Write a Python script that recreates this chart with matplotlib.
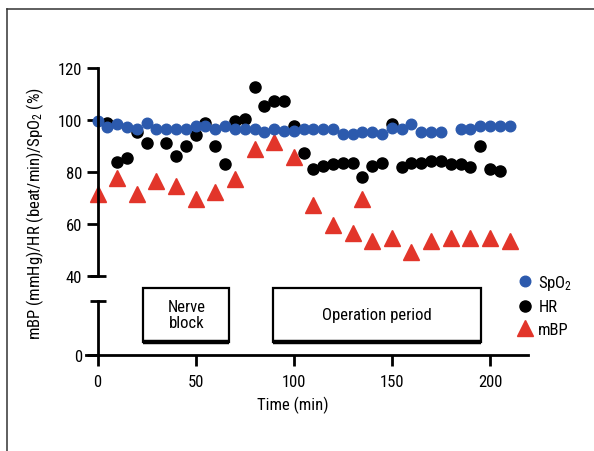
import matplotlib
matplotlib.use("Agg")
import matplotlib.pyplot as plt
from matplotlib.patches import Rectangle
from matplotlib.lines import Line2D
from matplotlib import font_manager

# ---------------- data ----------------
spo2_t = [0, 5, 10, 15, 20, 25, 30, 35, 40, 45, 50, 55, 60, 65, 70, 75, 80, 85, 90, 95,
          100, 105, 110, 115, 120, 125, 130, 135, 140, 145, 150, 155, 160, 165, 170, 175,
          185, 190, 195, 200, 205, 210]
spo2_v = [99.7, 97.4, 98.5, 97.2, 96.5, 98.8, 96.5, 96.5, 96.5, 96.5, 97.6, 97.7, 96.5, 97.7,
          96.5, 96.5, 96.5, 95.3, 96.5, 95.6, 95.6, 96.5, 96.5, 96.5, 96.5, 94.6, 94.6, 95.5,
          95.5, 94.6, 97, 96.5, 98.5, 95.5, 95.5, 95.5, 96.5, 96.5, 97.6, 97.6, 97.6, 97.6]

hr_t = [5, 10, 15, 20, 25, 35, 40, 45, 50, 55, 60, 65, 70, 75, 80, 85, 90, 95, 100, 105,
        110, 115, 120, 125, 130, 135, 140, 145, 150, 155, 160, 165, 170, 175, 180, 185,
        190, 195, 200, 205]
hr_v = [98.8, 84, 85.3, 95.3, 91.2, 91.2, 86.3, 90.1, 94.2, 98.8, 90.1, 83, 99.7, 100.4,
        112.6, 105.5, 107.4, 107.4, 97.8, 87.3, 81.2, 82.3, 83.2, 83.3, 83.3, 78.2, 82.4,
        83.3, 98.5, 82, 83.3, 83.3, 84.3, 84.3, 83, 83, 82, 90.1, 81.3, 80.3]

mbp_t = [0, 10, 20, 30, 40, 50, 60, 70, 80, 90, 100, 110, 120, 130, 135, 140, 150, 160,
         170, 180, 190, 200, 210]
mbp_v = [71.5, 77.6, 71.5, 76.7, 74.7, 69.6, 72.2, 77.3, 88.8, 91.4, 85.8, 67.5, 59.6,
         56.5, 69.6, 53.6, 54.5, 49.3, 53.6, 54.5, 54.5, 54.5, 53.6]

periods = ["Nerve\nblock", "Operation period"]
period_start = [23.4, 89.4]
period_end = [67.1, 195.5]

upper_ticks = [40, 60, 80, 100, 120]
lower_ticks = [0]
x_ticks = [0, 50, 100, 150, 200]

# ---------------- style ----------------
avail = {f.name for f in font_manager.fontManager.ttflist}
fam = [f for f in ["Liberation Sans Narrow", "Roboto Condensed", "Open Sans Condensed",
                   "Liberation Sans", "DejaVu Sans"] if f in avail] + ["DejaVu Sans"]
plt.rcParams["font.family"] = fam
plt.rcParams["mathtext.fontset"] = "custom"
plt.rcParams["mathtext.rm"] = fam[0]
plt.rcParams["mathtext.it"] = fam[0]
FS = 12
C_BLUE = "#2c5aad"
C_RED = "#e2352a"
LW = 2.0

W, H = 594, 452
fig = plt.figure(figsize=(W / 100, H / 100), dpi=100)

def rect(x0, y_top, x1, y_bot):
    return [x0 / W, 1 - y_bot / H, (x1 - x0) / W, (y_bot - y_top) / H]

ax = fig.add_axes(rect(86, 69, 528, 277))
axb = fig.add_axes(rect(86, 302, 528, 356), sharex=ax)

XLIM = (-5.9, 219.4)
for a in (ax, axb):
    a.set_xlim(*XLIM)
    for s in ("top", "right"):
        a.spines[s].set_visible(False)
    a.spines["left"].set_position(("data", 0))
    a.spines["left"].set_linewidth(LW)
    a.spines["bottom"].set_linewidth(LW)
    a.tick_params(width=LW, length=8, labelsize=FS, pad=3, color="black")
    a.patch.set_alpha(0)

ax.set_ylim(40, 120)
ax.spines["bottom"].set_visible(False)
ax.set_yticks(upper_ticks)
ax.tick_params(axis="x", bottom=False, labelbottom=False)

axb.set_ylim(0, 20)
axb.set_yticks(lower_ticks)
axb.set_xticks(x_ticks)
axb.tick_params(axis="x", pad=6)

# caps at the ends of the broken axis
ax.plot([0], [40], marker="_", ms=12, mew=LW, color="black", clip_on=False)
axb.plot([0], [20], marker="_", ms=12, mew=LW, color="black", clip_on=False)

# data
h_mbp, = ax.plot(mbp_t, mbp_v, ls="none", marker="^", ms=11, color=C_RED, mec=C_RED, clip_on=False)
h_hr, = ax.plot(hr_t, hr_v, ls="none", marker="o", ms=8, color="black", clip_on=False)
h_spo2, = ax.plot(spo2_t, spo2_v, ls="none", marker="o", ms=7.6, color=C_BLUE, mec=C_BLUE, clip_on=False)

# period boxes (drawn in lower axes, extending into the gap)
box_bot, box_top = 4.8, 24.8
for lab, s, e in zip(periods, period_start, period_end):
    axb.add_patch(Rectangle((s, box_bot), e - s, box_top - box_bot, fill=False,
                            lw=1.6, ec="black", clip_on=False))
    axb.plot([s, e], [box_bot, box_bot], color="black", lw=3.2, clip_on=False,
             solid_capstyle="butt")
    axb.text((s + e) / 2, (box_bot + box_top) / 2 + 0.3, lab, ha="center", va="center",
             fontsize=FS, linespacing=1.05)

# labels
fig.text(293 / W, 1 - 405 / H, "Time (min)", ha="center", va="center", fontsize=FS)
fig.text(35 / W, 1 - 214 / H, "mBP (mmHg)/HR (beat/min)/SpO$_2$ (%)", rotation=90,
         ha="center", va="center", fontsize=FS)

fig.legend([h_spo2, h_hr, h_mbp], ["SpO$_2$", "HR", "mBP"],
           loc="upper left", bbox_to_anchor=(515 / W, 1 - 274 / H), frameon=False,
           fontsize=FS, handletextpad=0.2, labelspacing=0.45, handlelength=1.2,
           borderaxespad=0, borderpad=0)

# outer frame lines (left and top)
fig.add_artist(Line2D([7 / W, 7 / W], [0, 1 - 10 / H], color="#333333", lw=1.1))
fig.add_artist(Line2D([7 / W, 1], [1 - 10 / H, 1 - 10 / H], color="#333333", lw=1.1))

fig.savefig("out.png", dpi=100)
